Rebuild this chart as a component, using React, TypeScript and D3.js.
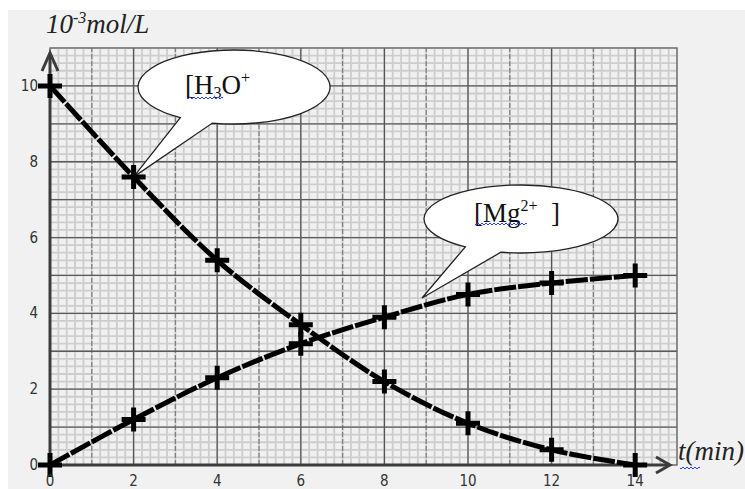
import React from 'react';
import * as d3 from 'd3';

// time in minutes
const times = [0, 2, 4, 6, 8, 10, 12, 14];
// concentrations in 10^-3 mol/L
const h3oValues = [10, 7.6, 5.4, 3.7, 2.2, 1.1, 0.4, 0];
const mgValues = [0, 1.2, 2.3, 3.2, 3.9, 4.5, 4.8, 5.0];
const xTickLabels = [0, 2, 4, 6, 8, 10, 12, 14];
const yTickLabels = [0, 2, 4, 6, 8, 10];

const W = 745;
const H = 489;

const x = d3.scaleLinear().domain([0, 15]).range([50, 677]);
const y = d3.scaleLinear().domain([0, 11]).range([465, 48]);

const line = d3
  .line<number>()
  .x((d, i) => x(times[i]))
  .y((d) => y(d))
  .curve(d3.curveCatmullRom.alpha(0.5));

// speech bubble outline: ellipse + pointed tail
const bubblePath = (cx: number, cy: number, rx: number, ry: number, a1: number, a2: number, tip: [number, number]) => {
  const p1 = [cx + rx * Math.cos(a1), cy + ry * Math.sin(a1)];
  const p2 = [cx + rx * Math.cos(a2), cy + ry * Math.sin(a2)];
  return `M${p1[0]},${p1[1]} A${rx},${ry} 0 1 1 ${p2[0]},${p2[1]} L${tip[0]},${tip[1]} Z`;
};

// spell-check squiggle
const wavy = (x0: number, x1: number, yy: number) => {
  let d = `M${x0},${yy}`;
  for (let xx = x0; xx < x1; xx += 4) {
    d += ` q1,2 2,0 q1,-2 2,0`;
  }
  return d;
};

const App = () => {
  const minorX = d3.range(0, 15.001, 0.2);
  const minorY = d3.range(0, 11.001, 0.2);
  const majorX = d3.range(1, 15, 1);
  const majorY = d3.range(1, 11, 1);
  const serif = '"Liberation Serif", "Times New Roman", serif';
  const tickFont = '"DejaVu Sans Condensed", "DejaVu Sans", sans-serif';

  const marker = (t: number, v: number, key: string) => (
    <path
      key={key}
      d={`M${x(t) - 12},${y(v)} h24 M${x(t)},${y(v) - 12} v24`}
      stroke="#000"
      strokeWidth={5}
    />
  );

  return (
    <svg width={W} height={H} style={{ position: 'absolute', left: 0, top: 0 }}>
      <rect x={0} y={0} width={W} height={H} fill="#fff" />
      <rect x={8} y={10} width={W - 8} height={H - 10} fill="#f1f1f1" />

      {/* graph paper */}
      <rect x={x(0)} y={y(11)} width={x(15) - x(0)} height={y(0) - y(11)} fill="#f0f0f0" />
      <g stroke="#cdcdcd" strokeWidth={1.8}>
        {minorX.map((v) => (
          <line key={'mx' + v} x1={x(v)} x2={x(v)} y1={y(0)} y2={y(11)} />
        ))}
        {minorY.map((v) => (
          <line key={'my' + v} x1={x(0)} x2={x(15)} y1={y(v)} y2={y(v)} />
        ))}
      </g>
      <g strokeWidth={1.3}>
        {majorX.map((v) => (
          <line
            key={'Mx' + v}
            x1={x(v)}
            x2={x(v)}
            y1={y(0)}
            y2={y(11)}
            stroke={v % 2 === 0 ? '#555' : '#808080'}
            strokeDasharray={v % 2 === 0 ? null : '5 2'}
          />
        ))}
        {majorY.map((v) => (
          <line key={'My' + v} x1={x(0)} x2={x(15)} y1={y(v)} y2={y(v)} stroke="#5a5a5a" />
        ))}
      </g>
      <rect
        x={x(0)}
        y={y(11)}
        width={x(15) - x(0)}
        height={y(0) - y(11)}
        fill="none"
        stroke="#666"
        strokeWidth={1.3}
      />

      {/* axes */}
      <g stroke="#3c3c3c" strokeWidth={3} fill="none">
        <line x1={x(0)} x2={x(0)} y1={y(0)} y2={53} />
        <path d={`M${x(0) - 8},71 L${x(0)},53 L${x(0) + 8},71`} />
        <line x1={x(0)} x2={670} y1={y(0)} y2={y(0)} />
        <path d={`M656,457 L670,${y(0)} L656,473`} />
      </g>

      {/* callouts */}
      <path
        d={bubblePath(234, 87, 96, 37, (124 * Math.PI) / 180, (103 * Math.PI) / 180, [x(2), y(7.6)])}
        fill="#fff"
        stroke="#222"
        strokeWidth={1.3}
      />
      <path
        d={bubblePath(521, 219, 97, 34, (125 * Math.PI) / 180, (102 * Math.PI) / 180, [422, 298])}
        fill="#fff"
        stroke="#222"
        strokeWidth={1.3}
      />
      <text x={185} y={94} fontFamily={serif} fontSize={27} fill="#111">
        [H<tspan fontSize={16} dy={4}>3</tspan>
        <tspan dy={-4}>O</tspan>
        <tspan fontSize={16} dy={-11}>+</tspan>
      </text>
      <path d={wavy(187, 221, 98)} stroke="#2a3cff" strokeWidth={1} fill="none" />
      <text x={474} y={222} fontFamily={serif} fontSize={27} fill="#111">
        [Mg<tspan fontSize={16} dy={-11}>2+</tspan>
        <tspan dy={11}>{'\u00a0\u00a0]'}</tspan>
      </text>
      <path d={wavy(475, 525, 224)} stroke="#2a3cff" strokeWidth={1} fill="none" />

      {/* curves */}
      <g fill="none" stroke="#000" strokeWidth={5} strokeDasharray="22 2">
        <path d={line(h3oValues) || ''} />
        <path d={line(mgValues) || ''} />
      </g>
      {times.map((t, i) => marker(t, h3oValues[i], 'h' + i))}
      {times.map((t, i) => marker(t, mgValues[i], 'm' + i))}

      {/* tick labels */}
      <g fontFamily={tickFont} fontSize={15} fill="#333">
        {yTickLabels.map((v) => (
          <text key={'yt' + v} x={38} y={y(v) + 5} textAnchor="end">
            {v}
          </text>
        ))}
        {xTickLabels.map((v) => (
          <text key={'xt' + v} x={x(v)} y={486} textAnchor="middle">
            {v}
          </text>
        ))}
      </g>

      {/* axis titles */}
      <text x={46} y={33} fontFamily={serif} fontStyle="italic" fontSize={27} fill="#222">
        10<tspan fontSize={16} dy={-10}>-3</tspan>
        <tspan dy={10}>mol/L</tspan>
      </text>
      <text x={678} y={460} fontFamily={serif} fontStyle="italic" fontSize={27} fill="#222">
        t(min)
      </text>
      <path d={wavy(680, 698, 468)} stroke="#2a3cff" strokeWidth={1} fill="none" />
    </svg>
  );
};

export default App;
